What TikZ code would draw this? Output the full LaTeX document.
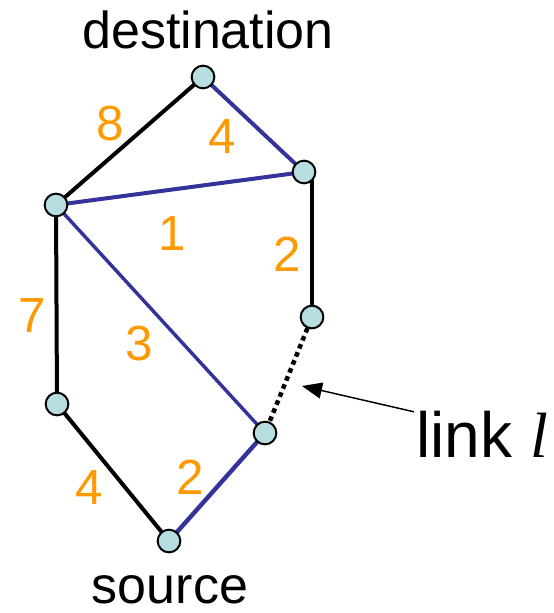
\documentclass[tikz,border=0pt]{standalone}
\usepackage{fontspec}
\setmainfont{Liberation Sans}
\newfontfamily\serifit{Liberation Serif}
\usetikzlibrary{arrows.meta}
\definecolor{nodefill}{HTML}{B7DDE0}
\definecolor{pathblue}{HTML}{333399}
\definecolor{wt}{HTML}{FF9900}
\begin{document}
\begin{tikzpicture}[x=0.75pt,y=-0.75pt,
  vtx/.style={circle,draw=black,line width=1.5pt,fill=nodefill,minimum size=17pt,inner sep=0pt},
  blk/.style={draw=black,line width=3pt},
  blu/.style={draw=pathblue,line width=3pt},
  wlab/.style={text=wt,font=\fontsize{37}{37}\selectfont,inner sep=0pt},
  big/.style={font=\fontsize{39}{39}\selectfont,inner sep=0pt}]
\useasboundingbox (0,0) rectangle (553,613);
\coordinate (pD) at (203,77);
\coordinate (pR1) at (304,172);
\coordinate (pR1b) at (312,178);
\coordinate (pL1) at (56,205);
\coordinate (pR2) at (312,317);
\coordinate (pL2) at (57,404);
\coordinate (pM) at (265,433);
\coordinate (pS) at (169,541);
% edges
\draw[blk] (pD) -- (pL1);
\draw[blu] (pD) -- (pR1);
\draw[blu] (pL1) -- (pR1);
\draw[blk] (pR1b) -- (pR2);
\draw[blk] (pL1) -- (pL2);
\draw[blu,line width=2.6pt] (pL1) -- (pM);
\draw[blk] (pL2) -- (pS);
\draw[blu,line width=3.3pt] (pS) -- (pM);
\draw[draw=black,line width=3.4pt,dash pattern=on 3.5pt off 3pt,shorten <=9pt,shorten >=9pt] (pR2) -- (pM);
% vertices
\node[vtx] (D) at (pD) {};
\node[vtx] (R1) at (pR1) {};
\node[vtx] (L1) at (pL1) {};
\node[vtx] (R2) at (pR2) {};
\node[vtx] (L2) at (pL2) {};
\node[vtx] (M) at (pM) {};
\node[vtx] (S) at (pS) {};
% weights
\node[wlab] (w8) at (110,124) {8};
\node[wlab] (w4a) at (222,137) {4};
\node[wlab] (w1) at (172,234) {1};
\node[wlab] (w2a) at (287,254) {2};
\node[wlab] (w7) at (32,316) {7};
\node[wlab] (w3) at (139,344) {3};
\node[wlab] (w4b) at (89,488) {4};
\node[wlab] (w2b) at (190,477) {2};
% labels
\node[big] (dest) at (208,30) {destination};
\node[big] (src) at (170,590) {source};
\node[font=\fontsize{48}{48}\selectfont,inner sep=0pt,anchor=base west] (lnk) at (416,457) {link \serifit\itshape l};
\coordinate (tip) at (302,386);
\draw[line width=1.1pt,-{Triangle[length=15pt,width=12pt]}] (lnk.west) ++(-2,-22) coordinate (tail) -- (tip);
\end{tikzpicture}
\end{document}
